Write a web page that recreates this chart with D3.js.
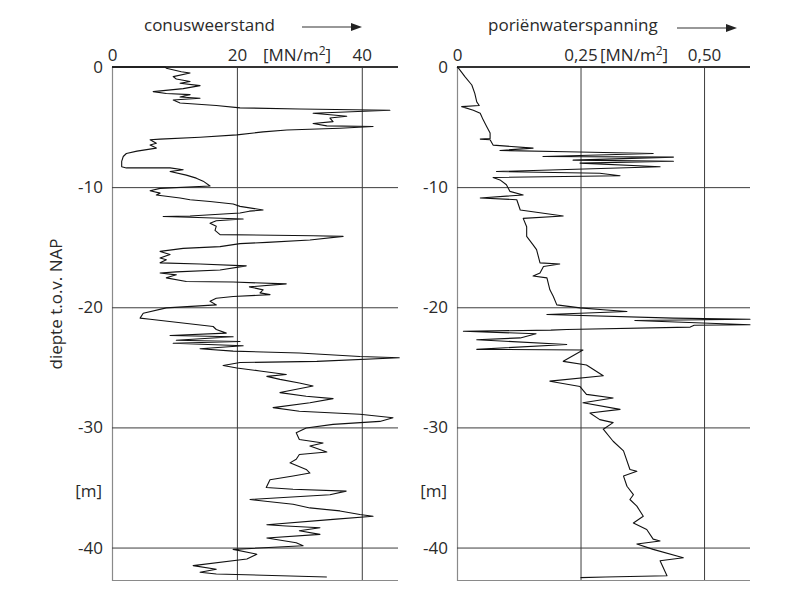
<!DOCTYPE html>
<html>
<head>
<meta charset="utf-8">
<script src="https://cdn.jsdelivr.net/npm/d3@7"></script>
<style>
  html, body { margin: 0; padding: 0; background: #fff; }
  svg { display: block; }
  text { font-family: "Open Sans", "DejaVu Sans", sans-serif; fill: #2a2a2a; }
</style>
</head>
<body>
<svg id="chart" width="809" height="603"></svg>
<script>
// Cone penetration test: cone resistance and pore water pressure against depth (m NAP)

// cone resistance [MN/m2] and its depth [m]
const coneResistance = [
  0, 8.5, 8.7, 11.1, 12.5, 9.8, 10.3, 12.5, 10.9, 14.1, 11.4, 6.6, 8.7, 12.5, 10.9, 14.1, 9.8, 10.9, 16.7, 20.5,
  30, 44.5, 32.2, 35.4, 37.6, 34.9, 35.4, 32.2, 34.4, 41.8, 36.5, 28, 24.2, 20, 14.1, 7.7, 6.1, 7.1, 6.1, 7.1,
  4.0, 2.3, 1.8, 1.55, 1.55, 2.3, 9.3, 11.4, 9.3, 11.9, 13.5, 14.6, 15.7, 7.7, 6.1, 7.7, 7.1, 10.9, 12.5, 15.7,
  19.4, 20.5, 24.2, 22, 20.5, 12.5, 8.2, 12.5, 21, 16.7, 15.7, 16.7, 16.5, 17.3, 32.2, 37, 31.7, 24.8, 20.5, 17.3,
  11.4, 7.7, 9.3, 7.7, 8.7, 7.7, 14.1, 21.5, 17.3, 10.3, 7.7, 10.3, 8.7, 11.9, 19.4, 27.9, 22, 24.2, 23.7, 25.3,
  19.4, 16.7, 15.7, 16.7, 8.7, 5.0, 4.5, 6.1, 16.2, 16.7, 18.3, 9.3, 19.4, 10.3, 20.5, 9.8, 21, 14.1, 19.4, 30,
  39.7, 46, 32.8, 20.5, 17.8, 20, 23.7, 27.9, 24.8, 26.9, 30, 32.2, 26.9, 31.1, 35.4, 31.7, 25.8, 30, 39.7, 45,
  42.9, 35.4, 31.1, 29.5, 30, 33.8, 31.7, 34.4, 30, 29.5, 28.5, 31.1, 31.7, 29, 25.3, 24.7, 29, 37.5, 34.9, 22.1,
  29, 31.7, 36.5, 39.7, 41.8, 35.4, 24.8, 27.9, 33.3, 30, 33.3, 24.8, 29.5, 30.6, 19.4, 23.2, 21.6, 13, 16.7, 14.1,
  16.7, 34.4
];
const coneDepth = [
  0, 0, -0.1, -0.4, -0.5, -0.8, -1.0, -1.2, -1.35, -1.55, -1.8, -2.05, -2.2, -2.3, -2.5, -2.6, -2.75, -3.0, -3.2, -3.4,
  -3.5, -3.6, -3.85, -4.0, -4.1, -4.25, -4.55, -4.7, -4.9, -4.95, -5.1, -5.25, -5.4, -5.65, -5.85, -6.0, -6.05, -6.35, -6.5, -6.75,
  -7.0, -7.2, -7.45, -7.85, -8.3, -8.4, -8.4, -8.55, -8.7, -9.0, -9.25, -9.5, -9.9, -10.1, -10.3, -10.5, -10.65, -10.9, -11.05, -11.2,
  -11.4, -11.6, -11.9, -12.0, -12.15, -12.4, -12.45, -12.5, -12.65, -12.8, -13.0, -13.25, -13.6, -13.95, -14.05, -14.1, -14.4, -14.6, -14.7, -14.95,
  -15.1, -15.35, -15.6, -15.9, -16.05, -16.3, -16.4, -16.55, -16.9, -17.05, -17.15, -17.3, -17.55, -17.85, -17.9, -18.05, -18.3, -18.55, -18.8, -18.95,
  -19.1, -19.25, -19.5, -19.8, -20.05, -20.5, -20.9, -21.0, -21.6, -21.85, -22.15, -22.35, -22.45, -22.75, -22.85, -23.0, -23.2, -23.45, -23.65, -23.8,
  -24.1, -24.2, -24.5, -24.6, -24.85, -25.05, -25.3, -25.6, -25.75, -26.0, -26.3, -26.55, -27.1, -27.4, -27.6, -27.95, -28.35, -28.65, -28.9, -29.2,
  -29.5, -29.75, -30.05, -30.45, -31.0, -31.3, -31.55, -32.05, -32.25, -32.65, -32.95, -33.5, -33.8, -34.05, -34.35, -35.0, -35.15, -35.3, -35.6, -36.0,
  -36.4, -36.7, -36.95, -37.25, -37.4, -37.65, -38.1, -38.2, -38.35, -38.6, -38.9, -39.2, -39.6, -39.85, -40.15, -40.55, -40.95, -41.5, -41.8, -42.05,
  -42.2, -42.45
];

// pore water pressure [MN/m2] and its depth [m]
const porePressure = [
  0, 0.003, 0.016, 0.030, 0.036, 0.040, 0.045, 0.0095, 0.033, 0.047, 0.053, 0.060, 0.067, 0.067, 0.047, 0.067, 0.073, 0.154, 0.087, 0.222,
  0.397, 0.174, 0.438, 0.235, 0.438, 0.249, 0.411, 0.080, 0.289, 0.330, 0.073, 0.087, 0.100, 0.107, 0.134, 0.047, 0.121, 0.128, 0.215, 0.134,
  0.141, 0.141, 0.154, 0.161, 0.168, 0.208, 0.175, 0.168, 0.154, 0.182, 0.188, 0.195, 0.202, 0.249, 0.296, 0.344, 0.182, 0.438, 0.593, 0.360,
  0.593, 0.480, 0.472, 0.222, 0.190, 0.013, 0.160, 0.128, 0.040, 0.222, 0.040, 0.255, 0.215, 0.262, 0.296, 0.188, 0.249, 0.262, 0.316, 0.255,
  0.330, 0.269, 0.289, 0.316, 0.296, 0.316, 0.337, 0.350, 0.364, 0.337, 0.344, 0.357, 0.350, 0.364, 0.377, 0.357, 0.384, 0.397, 0.411, 0.364,
  0.397, 0.458, 0.411, 0.425, 0.300, 0.250
];
const poreDepth = [
  0, -0.1, -0.8, -1.5, -2.2, -2.9, -3.2, -3.3, -3.6, -3.85, -4.4, -4.95, -5.5, -5.95, -6.0, -6.05, -6.5, -6.75, -6.95, -7.05,
  -7.2, -7.45, -7.5, -7.75, -7.85, -8.0, -8.3, -8.7, -8.85, -9.05, -9.2, -9.4, -9.8, -10.35, -10.65, -10.9, -11.05, -11.9, -12.4, -12.6,
  -13.3, -14.1, -14.8, -15.2, -16.3, -16.4, -16.6, -17.15, -17.4, -17.55, -18.55, -19.1, -19.8, -20.05, -20.2, -20.35, -20.6, -20.9, -21.0, -21.1,
  -21.45, -21.5, -21.65, -21.85, -21.9, -22.0, -22.2, -22.55, -22.7, -23.1, -23.5, -23.55, -24.5, -24.8, -25.7, -26.15, -26.6, -27.25, -27.55, -27.95,
  -28.5, -28.8, -29.35, -29.6, -30.15, -31.15, -31.95, -33.5, -33.65, -34.05, -34.9, -35.6, -36.0, -36.55, -37.4, -37.95, -38.5, -39.3, -39.45, -39.7,
  -40.15, -40.85, -41.1, -42.35, -42.45, -42.5
];

// tick labels
const depthTicks = [0, -10, -20, -30, -40];
const coneTicks = [0, 20, 40];
const poreTicks = [0, 0.25, 0.5];

const svg = d3.select("#chart");

const plotTop = 67, plotBottom = 580;
const y = d3.scaleLinear().domain([0, -42.7]).range([plotTop, plotBottom]);
const xCone = d3.scaleLinear().domain([0, 45.8]).range([112, 398]);
const xPore = d3.scaleLinear().domain([0, 0.593]).range([457, 750]);

const gridColor = "#3c3c3c";

function panel(x, ticks, fmt, unitX, title, titleX, arrow) {
  const g = svg.append("g");
  const [x0, x1] = x.range();

  // horizontal depth grid with labels on the left
  const ya = g.append("g")
    .attr("transform", `translate(${x0},0)`)
    .call(d3.axisLeft(y).tickValues(depthTicks).tickSize(-(x1 - x0)).tickPadding(9)
      .tickFormat(d => String(d)));
  ya.select(".domain").attr("stroke", "#8a8a8a").attr("stroke-width", 1.2);
  ya.selectAll(".tick line").attr("stroke", gridColor).attr("stroke-width", 1);
  ya.selectAll(".tick text").style("font-size", "17px").attr("fill", "#2a2a2a");

  // vertical value grid with labels on top
  const xa = g.append("g")
    .attr("transform", `translate(0,${plotTop})`)
    .call(d3.axisTop(x).tickValues(ticks).tickSize(-(plotBottom - plotTop)).tickPadding(6).tickFormat(fmt));
  xa.select(".domain").remove();
  xa.selectAll(".tick line").attr("stroke", gridColor).attr("stroke-width", 1)
    .filter(d => d === 0).remove();
  xa.selectAll(".tick text").style("font-size", "17px").attr("fill", "#2a2a2a");

  // heavier line along depth 0
  g.append("line").attr("x1", x0).attr("x2", x1).attr("y1", plotTop).attr("y2", plotTop)
    .attr("stroke", "#333").attr("stroke-width", 1.8);

  // unit label among the top ticks
  const u = g.append("text").attr("x", unitX).attr("y", plotTop - 6).style("font-size", "17px");
  u.append("tspan").text("[MN/m");
  u.append("tspan").attr("dy", -6).style("font-size", "12px").text("2");
  u.append("tspan").attr("dy", 6).text("]");

  // title with arrow pointing to increasing values
  g.append("text").attr("x", titleX).attr("y", 31).style("font-size", "17px").text(title);
  g.append("line").attr("x1", arrow[0]).attr("x2", arrow[1] - 9).attr("y1", arrow[2]).attr("y2", arrow[2])
    .attr("stroke", "#333").attr("stroke-width", 1.2);
  g.append("path")
    .attr("d", `M${arrow[1]},${arrow[2]} L${arrow[1] - 11},${arrow[2] - 4} L${arrow[1] - 11},${arrow[2] + 4} Z`)
    .attr("fill", "#222");

  // depth unit
  g.append("text").attr("x", x0 - 10).attr("y", y(-35.3)).attr("text-anchor", "end")
    .attr("dy", "0.32em").style("font-size", "17px").text("[m]");
  return g;
}

const leftPanel = panel(xCone, coneTicks, d => String(d), 263, "conusweerstand", 144, [302, 362, 27]);
const rightPanel = panel(xPore, poreTicks, d => d === 0 ? "0" : d.toFixed(2).replace(".", ","), 600,
  "poriënwaterspanning", 488, [677, 737, 28]);

// y axis title
svg.append("text")
  .attr("transform", `translate(56,${304}) rotate(-90)`)
  .attr("text-anchor", "middle").attr("dy", "0.35em")
  .style("font-size", "17px").text("diepte t.o.v. NAP");

// profiles
const coneLine = d3.line().x(d => xCone(d[0])).y(d => y(d[1]));
const poreLine = d3.line().x(d => xPore(d[0])).y(d => y(d[1]));

leftPanel.append("path")
  .datum(d3.zip(coneResistance, coneDepth))
  .attr("d", coneLine)
  .attr("fill", "none").attr("stroke", "#111").attr("stroke-width", 1.1).attr("stroke-linejoin", "round");

rightPanel.append("path")
  .datum(d3.zip(porePressure, poreDepth))
  .attr("d", poreLine)
  .attr("fill", "none").attr("stroke", "#111").attr("stroke-width", 1.1).attr("stroke-linejoin", "round");
</script>
</body>
</html>
